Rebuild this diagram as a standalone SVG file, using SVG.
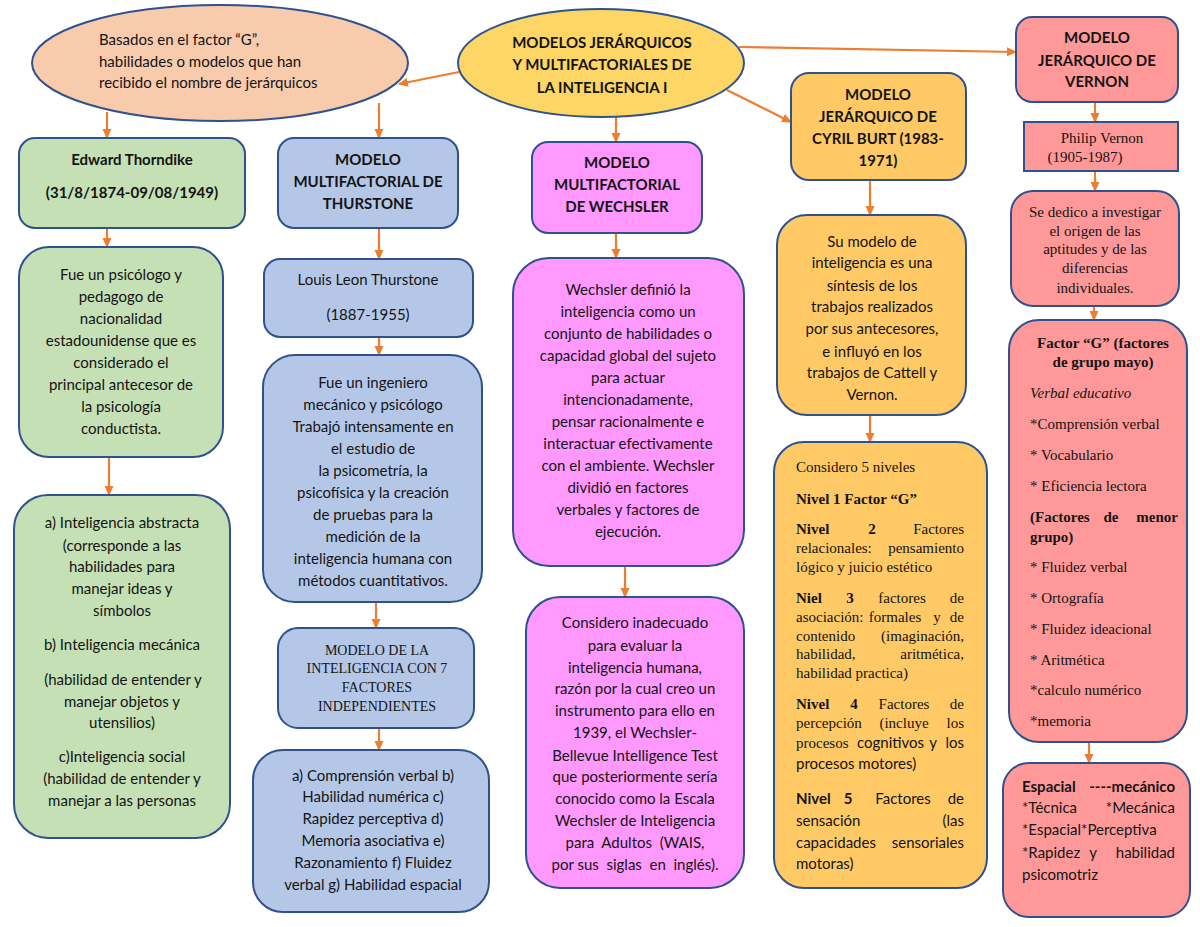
<svg xmlns="http://www.w3.org/2000/svg" width="1200" height="927" viewBox="0 0 1200 927">
<defs>
<marker id="ah" markerWidth="10" markerHeight="10" refX="9" refY="5" orient="auto" markerUnits="userSpaceOnUse">
<path d="M0,0.5 L10,5 L0,9.5 Z" fill="#ed7d31"/>
</marker>
<style>
.sh{stroke:#2f528f;stroke-width:2}
.cn line{stroke:#ed7d31;stroke-width:2.2;marker-end:url(#ah)}
text{font-family:Lato,"Liberation Sans",sans-serif;font-size:15px;fill:#141414}
.m{text-anchor:middle}
.e{text-anchor:end}
.b{font-weight:bold}
.t{font-family:"Liberation Serif","Times New Roman",serif}
.i{font-style:italic}
</style>
</defs>
<rect width="1200" height="927" fill="#ffffff"/>

<g id="connectors" class="cn">
<line x1="459" y1="72" x2="399" y2="84"/>
<line x1="107" y1="112" x2="107" y2="138"/>
<line x1="379" y1="103" x2="379" y2="138"/>
<line x1="616" y1="117" x2="616" y2="142"/>
<line x1="727" y1="90" x2="791" y2="122"/>
<line x1="739" y1="47" x2="1016" y2="52"/>
<line x1="107" y1="228" x2="107" y2="247"/>
<line x1="109" y1="457" x2="109" y2="495"/>
<line x1="379" y1="228" x2="379" y2="259"/>
<line x1="379" y1="337" x2="379" y2="355"/>
<line x1="376" y1="602" x2="376" y2="628"/>
<line x1="379" y1="728" x2="379" y2="750"/>
<line x1="616" y1="233" x2="616" y2="258"/>
<line x1="625" y1="566" x2="625" y2="597"/>
<line x1="870" y1="180" x2="870" y2="215"/>
<line x1="870" y1="415" x2="870" y2="442"/>
<line x1="1095" y1="102" x2="1095" y2="122"/>
<line x1="1095" y1="171" x2="1095" y2="191"/>
<line x1="1094" y1="306" x2="1094" y2="320"/>
<line x1="1089" y1="742" x2="1089" y2="763"/>
</g>

<g id="n-basados">
<ellipse cx="220" cy="63" rx="188" ry="58" fill="#f8cbad" class="sh"/>
<text x="99" y="45">Basados en el factor “G”,</text>
<text x="99" y="67">habilidades o modelos que han</text>
<text x="99" y="88">recibido el nombre de jerárquicos</text>
</g>

<g id="n-main">
<ellipse cx="601" cy="63" rx="143" ry="54" fill="#fdd665" class="sh"/>
<text x="602" y="48" class="m b">MODELOS JERÁRQUICOS</text>
<text x="602" y="70" class="m b">Y MULTIFACTORIALES DE</text>
<text x="602" y="93" class="m b">LA INTELIGENCIA I</text>
</g>

<g id="n-thorndike">
<rect x="19" y="138" width="226" height="90" rx="16" fill="#c5e0b4" class="sh"/>
<text x="132" y="165" class="m b">Edward Thorndike</text>
<text x="132" y="198" class="m b">(31/8/1874-09/08/1949)</text>
</g>

<g id="n-thorndike-bio">
<rect x="19" y="247" width="204" height="210" rx="30" fill="#c5e0b4" class="sh"/>
<text x="121" y="280" class="m">Fue un psicólogo y</text>
<text x="121" y="302" class="m">pedagogo de</text>
<text x="121" y="324" class="m">nacionalidad</text>
<text x="121" y="346" class="m">estadounidense que es</text>
<text x="121" y="368" class="m">considerado el</text>
<text x="121" y="390" class="m">principal antecesor de</text>
<text x="121" y="412" class="m">la psicología</text>
<text x="121" y="434" class="m">conductista.</text>
</g>

<g id="n-thorndike-types">
<rect x="14" y="495" width="216" height="343" rx="34" fill="#c5e0b4" class="sh"/>
<text x="122" y="528" class="m">a) Inteligencia abstracta</text>
<text x="122" y="551" class="m">(corresponde a las</text>
<text x="122" y="572" class="m">habilidades para</text>
<text x="122" y="594" class="m">manejar ideas y</text>
<text x="122" y="616" class="m">símbolos</text>
<text x="122" y="650" class="m">b) Inteligencia mecánica</text>
<text x="123" y="685" class="m">(habilidad de entender y</text>
<text x="122" y="707" class="m">manejar objetos y</text>
<text x="122" y="728" class="m">utensilios)</text>
<text x="122" y="762" class="m">c)Inteligencia social</text>
<text x="122" y="784" class="m">(habilidad de entender y</text>
<text x="122" y="806" class="m">manejar a las personas</text>
</g>

<g id="n-thurstone">
<rect x="278" y="138" width="180" height="90" rx="16" fill="#b4c7e7" class="sh"/>
<text x="368" y="165" class="m b">MODELO</text>
<text x="368" y="187" class="m b">MULTIFACTORIAL DE</text>
<text x="368" y="209" class="m b">THURSTONE</text>
</g>

<g id="n-louis">
<rect x="264" y="259" width="209" height="78" rx="16" fill="#b4c7e7" class="sh"/>
<text x="368" y="285" class="m">Louis Leon Thurstone</text>
<text x="368" y="320" class="m">(1887-1955)</text>
</g>

<g id="n-thurstone-bio">
<rect x="263" y="355" width="219" height="247" rx="32" fill="#b4c7e7" class="sh"/>
<text x="373" y="388" class="m">Fue un ingeniero</text>
<text x="373" y="410" class="m">mecánico y psicólogo</text>
<text x="373" y="432" class="m">Trabajó intensamente en</text>
<text x="373" y="454" class="m">el estudio de</text>
<text x="373" y="476" class="m">la psicometría, la</text>
<text x="373" y="498" class="m">psicofísica y la creación</text>
<text x="373" y="520" class="m">de pruebas para la</text>
<text x="373" y="542" class="m">medición de la</text>
<text x="373" y="564" class="m">inteligencia humana con</text>
<text x="373" y="586" class="m">métodos cuantitativos.</text>
</g>

<g id="n-7factores">
<rect x="278" y="628" width="196" height="100" rx="20" fill="#b4c7e7" class="sh"/>
<text x="377" y="655" class="m t" style="font-size:14px">MODELO DE LA</text>
<text x="377" y="673" class="m t" style="font-size:14px">INTELIGENCIA CON 7</text>
<text x="377" y="692" class="m t" style="font-size:14px">FACTORES</text>
<text x="377" y="711" class="m t" style="font-size:14px">INDEPENDIENTES</text>
</g>

<g id="n-7lista">
<rect x="253" y="750" width="236" height="162" rx="30" fill="#b4c7e7" class="sh"/>
<text x="373" y="781" class="m">a) Comprensión verbal b)</text>
<text x="373" y="802" class="m">Habilidad numérica c)</text>
<text x="373" y="824" class="m">Rapidez perceptiva d)</text>
<text x="373" y="846" class="m">Memoria asociativa e)</text>
<text x="373" y="868" class="m">Razonamiento f) Fluidez</text>
<text x="373" y="890" class="m">verbal g) Habilidad espacial</text>
</g>

<g id="n-wechsler">
<rect x="532" y="142" width="170" height="91" rx="16" fill="#ff99ff" class="sh"/>
<text x="617" y="168" class="m b">MODELO</text>
<text x="617" y="190" class="m b">MULTIFACTORIAL</text>
<text x="617" y="212" class="m b">DE WECHSLER</text>
</g>

<g id="n-wechsler-def">
<rect x="513" y="258" width="231" height="308" rx="36" fill="#ff99ff" class="sh"/>
<text x="628" y="295" class="m">Wechsler definió la</text>
<text x="628" y="317" class="m">inteligencia como un</text>
<text x="628" y="339" class="m">conjunto de habilidades o</text>
<text x="628" y="361" class="m">capacidad global del sujeto</text>
<text x="628" y="383" class="m">para actuar</text>
<text x="628" y="405" class="m">intencionadamente,</text>
<text x="628" y="427" class="m">pensar racionalmente e</text>
<text x="628" y="449" class="m">interactuar efectivamente</text>
<text x="628" y="471" class="m">con el ambiente. Wechsler</text>
<text x="628" y="493" class="m">dividió en factores</text>
<text x="628" y="515" class="m">verbales y factores de</text>
<text x="628" y="537" class="m">ejecución.</text>
</g>

<g id="n-wechsler-wais">
<rect x="526" y="597" width="218" height="291" rx="34" fill="#ff99ff" class="sh"/>
<text x="635" y="628" class="m">Considero inadecuado</text>
<text x="635" y="651" class="m">para evaluar la</text>
<text x="635" y="673" class="m">inteligencia humana,</text>
<text x="635" y="694" class="m">razón por la cual creo un</text>
<text x="635" y="716" class="m">instrumento para ello en</text>
<text x="635" y="738" class="m">1939, el Wechsler-</text>
<text x="635" y="761" class="m">Bellevue Intelligence Test</text>
<text x="635" y="782" class="m">que posteriormente sería</text>
<text x="635" y="804" class="m">conocido como la Escala</text>
<text x="635" y="826" class="m">Wechsler de Inteligencia</text>
<text x="635" y="848" class="m" xml:space="preserve">para  Adultos  (WAIS,</text>
<text x="635" y="870" class="m" xml:space="preserve">por sus  siglas  en  inglés).</text>
</g>

<g id="n-burt">
<rect x="791" y="73" width="175" height="107" rx="18" fill="#ffc966" class="sh"/>
<text x="878" y="100" class="m b">MODELO</text>
<text x="878" y="122" class="m b">JERÁRQUICO DE</text>
<text x="878" y="144" class="m b">CYRIL BURT (1983-</text>
<text x="878" y="166" class="m b">1971)</text>
</g>

<g id="n-burt-modelo">
<rect x="777" y="215" width="189" height="200" rx="30" fill="#ffc966" class="sh"/>
<text x="872" y="247" class="m">Su modelo de</text>
<text x="872" y="268" class="m">inteligencia es una</text>
<text x="872" y="291" class="m">síntesis de los</text>
<text x="872" y="312" class="m">trabajos realizados</text>
<text x="872" y="334" class="m">por sus antecesores,</text>
<text x="872" y="357" class="m">e influyó en los</text>
<text x="872" y="378" class="m">trabajos de Cattell y</text>
<text x="872" y="400" class="m">Vernon.</text>
</g>

<g id="n-burt-niveles">
<rect x="774" y="442" width="213" height="446" rx="30" fill="#ffc966" class="sh"/>
<text x="796" y="472" class="t">Considero 5 niveles</text>
<text x="796" y="504" class="t b">Nivel 1 Factor “G”</text>
<text x="796" y="534" class="t b">Nivel</text><text x="872" y="534" class="t b m">2</text><text x="964" y="534" class="t e">Factores</text>
<text x="796" y="553" class="t">relacionales:</text><text x="964" y="553" class="t e">pensamiento</text>
<text x="796" y="572" class="t">lógico y juicio estético</text>
<text x="796" y="603" class="t b">Niel</text><text x="850" y="603" class="t b m">3</text><text x="902" y="603" class="t m">factores</text><text x="964" y="603" class="t e">de</text>
<text x="796" y="622" class="t">asociación:</text><text x="895" y="622" class="t m">formales</text><text x="937" y="622" class="t m">y</text><text x="964" y="622" class="t e">de</text>
<text x="796" y="641" class="t">contenido</text><text x="964" y="641" class="t e">(imaginación,</text>
<text x="796" y="659" class="t">habilidad,</text><text x="964" y="659" class="t e">aritmética,</text>
<text x="796" y="678" class="t">habilidad practica)</text>
<text x="796" y="709" class="t b">Nivel</text><text x="854" y="709" class="t b m">4</text><text x="904" y="709" class="t m">Factores</text><text x="964" y="709" class="t e">de</text>
<text x="796" y="728" class="t">percepción</text><text x="904" y="728" class="t m">(incluye</text><text x="964" y="728" class="t e">los</text>
<text x="796" y="748" class="t">procesos</text><text x="857" y="748">cognitivos</text><text x="933" y="748" class="m">y</text><text x="964" y="748" class="e">los</text>
<text x="796" y="769">procesos motores)</text>
<text x="796" y="804" class="b">Nivel</text><text x="848" y="804" class="b m">5</text><text x="903" y="804" class="m">Factores</text><text x="964" y="804" class="e">de</text>
<text x="796" y="826">sensación</text><text x="964" y="826" class="e">(las</text>
<text x="796" y="848">capacidades</text><text x="964" y="848" class="e">sensoriales</text>
<text x="796" y="869">motoras)</text>
</g>

<g id="n-vernon">
<rect x="1016" y="17" width="162" height="85" rx="16" fill="#ff9999" class="sh"/>
<text x="1097" y="43" class="m b">MODELO</text>
<text x="1097" y="66" class="m b">JERÁRQUICO DE</text>
<text x="1097" y="87" class="m b">VERNON</text>
</g>

<g id="n-philip">
<rect x="1024" y="122" width="154" height="49" fill="#ff9999" class="sh"/>
<text x="1102" y="143" class="m t">Philip Vernon</text>
<text x="1085" y="162" class="m t">(1905-1987)</text>
</g>

<g id="n-vernon-inv">
<rect x="1011" y="191" width="168" height="115" rx="22" fill="#ff9999" class="sh"/>
<text x="1095" y="217" class="m t">Se dedico a investigar</text>
<text x="1095" y="236" class="m t">el origen de las</text>
<text x="1095" y="254" class="m t">aptitudes y de las</text>
<text x="1095" y="273" class="m t">diferencias</text>
<text x="1095" y="293" class="m t">individuales.</text>
</g>

<g id="n-vernon-factorg">
<rect x="1009" y="320" width="178" height="422" rx="30" fill="#ff9999" class="sh"/>
<text x="1103" y="348" class="m t b">Factor “G” (factores</text>
<text x="1103" y="367" class="m t b">de grupo mayo)</text>
<text x="1030" y="398" class="t i">Verbal educativo</text>
<text x="1030" y="429" class="t">*Comprensión verbal</text>
<text x="1030" y="460" class="t">* Vocabulario</text>
<text x="1030" y="491" class="t">* Eficiencia lectora</text>
<text x="1030" y="522" class="t b">(Factores</text><text x="1111" y="522" class="t b m">de</text><text x="1178" y="522" class="t b e">menor</text>
<text x="1030" y="542" class="t b">grupo)</text>
<text x="1030" y="572" class="t">* Fluidez verbal</text>
<text x="1030" y="603" class="t">* Ortografía</text>
<text x="1030" y="634" class="t">* Fluidez ideacional</text>
<text x="1030" y="665" class="t">* Aritmética</text>
<text x="1030" y="695" class="t">*calculo numérico</text>
<text x="1030" y="726" class="t">*memoria</text>
</g>

<g id="n-vernon-espacial">
<rect x="1003" y="763" width="187" height="154" rx="26" fill="#ff9999" class="sh"/>
<text x="1022" y="792" class="b">Espacial</text><text x="1175" y="792" class="b e">----mecánico</text>
<text x="1022" y="813">*Técnica</text><text x="1175" y="813" class="e">*Mecánica</text>
<text x="1022" y="835">*Espacial*Perceptiva</text>
<text x="1022" y="858">*Rapidez</text><text x="1093" y="858" class="m">y</text><text x="1175" y="858" class="e">habilidad</text>
<text x="1022" y="880">psicomotriz</text>
</g>
</svg>
